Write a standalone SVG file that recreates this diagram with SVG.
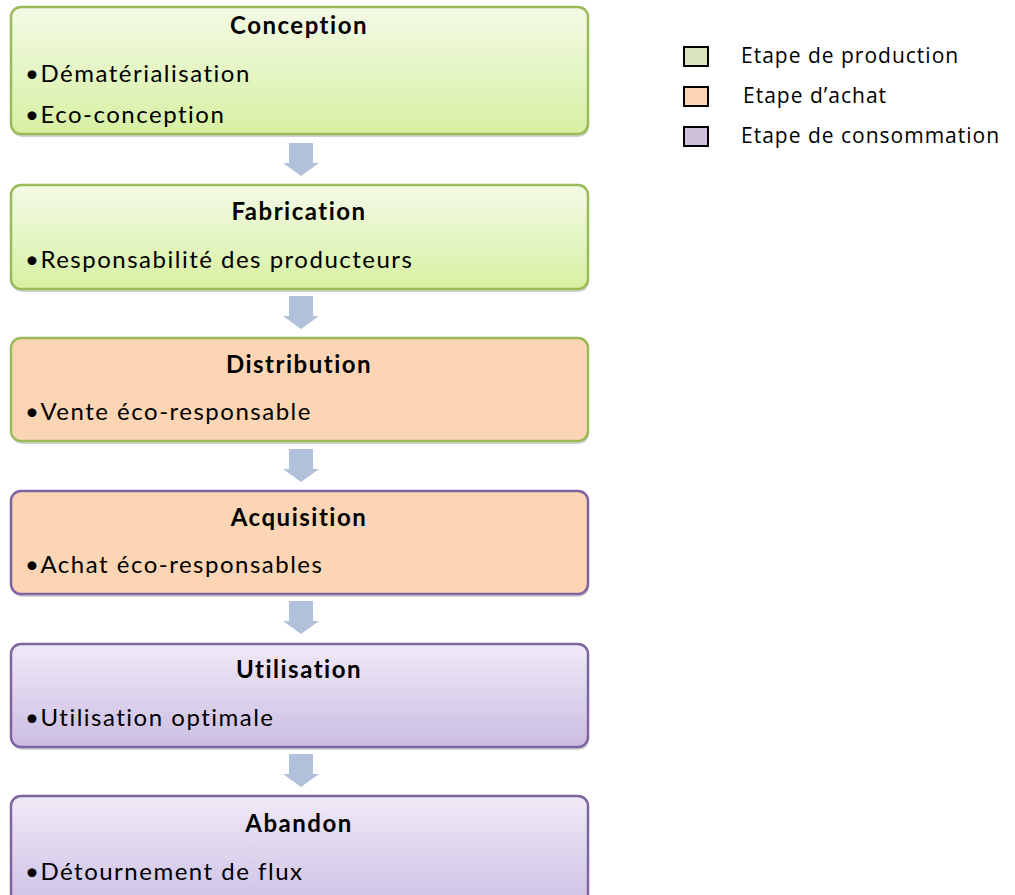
<svg xmlns="http://www.w3.org/2000/svg" width="1015" height="895" viewBox="0 0 1015 895">
<style>
.t{font-family:Lato,"Open Sans","Liberation Sans",sans-serif;font-weight:bold;font-size:24px;letter-spacing:1.5px;fill:#000;text-anchor:middle}
.b{font-family:Lato,"Open Sans","Liberation Sans",sans-serif;font-size:24px;letter-spacing:1.5px;fill:#000}
.lg{font-family:"Open Sans","Liberation Sans",sans-serif;font-size:21px;letter-spacing:1px;fill:#000}
.g{fill:url(#gg);stroke:#9bbb59;stroke-width:2.5}
.o{fill:#fcd5b5;stroke-width:2.5}
.p{fill:url(#pg);stroke:#8064a2;stroke-width:2.5}
.sh{fill:#7f7f7f;opacity:0.35}
.ar{fill:#b1c1dc}
.sq{stroke:#000;stroke-width:2}
</style>
<defs>
<linearGradient id="gg" x1="0" y1="0" x2="0" y2="1"><stop offset="0" stop-color="#f3fae6"/><stop offset="1" stop-color="#d7f0a2"/></linearGradient>
<linearGradient id="pg" x1="0" y1="0" x2="0" y2="1"><stop offset="0" stop-color="#efeaf7"/><stop offset="1" stop-color="#cbbde3"/></linearGradient>
</defs>
<rect width="1015" height="895" fill="#fff"/>
<g id="connectors">
<path class="ar" d="M289 143H313V163H319L301 176L283 163H289Z"/>
<path class="ar" d="M289 296H313V316H319L301 329L283 316H289Z"/>
<path class="ar" d="M289 449H313V469H319L301 482L283 469H289Z"/>
<path class="ar" d="M289 601H313V621H319L301 634L283 621H289Z"/>
<path class="ar" d="M289 754H313V774H319L301 787L283 774H289Z"/>
</g>
<g id="conception">
<rect class="sh" x="12" y="10" width="577" height="127" rx="10"/>
<rect class="g" x="11" y="7" width="577" height="127" rx="10"/>
<text class="t" x="299" y="34">Conception</text>
<text class="b" x="25" y="82">•Dématérialisation</text>
<text class="b" x="25" y="123">•Eco-conception</text>
</g>
<g id="fabrication">
<rect class="sh" x="12" y="188" width="577" height="104" rx="10"/>
<rect class="g" x="11" y="185" width="577" height="104" rx="10"/>
<text class="t" x="299" y="220">Fabrication</text>
<text class="b" x="25" y="268">•Responsabilité des producteurs</text>
</g>
<g id="distribution">
<rect class="sh" x="12" y="341" width="577" height="103" rx="10"/>
<rect class="o" stroke="#9bbb59" x="11" y="338" width="577" height="103" rx="10"/>
<text class="t" x="299" y="373">Distribution</text>
<text class="b" x="25" y="420">•Vente éco-responsable</text>
</g>
<g id="acquisition">
<rect class="sh" x="12" y="494" width="577" height="103" rx="10"/>
<rect class="o" stroke="#8064a2" x="11" y="491" width="577" height="103" rx="10"/>
<text class="t" x="299" y="526">Acquisition</text>
<text class="b" x="25" y="573">•Achat éco-responsables</text>
</g>
<g id="utilisation">
<rect class="sh" x="12" y="647" width="577" height="103" rx="10"/>
<rect class="p" x="11" y="644" width="577" height="103" rx="10"/>
<text class="t" x="299" y="678">Utilisation</text>
<text class="b" x="25" y="726">•Utilisation optimale</text>
</g>
<g id="abandon">
<rect class="p" x="11" y="796" width="577" height="120" rx="10"/>
<text class="t" x="299" y="832">Abandon</text>
<text class="b" x="25" y="880">•Détournement de flux</text>
</g>
<g id="legend">
<rect class="sq" x="684" y="47" width="24" height="19" fill="#d7e4bd"/>
<text class="lg" x="741" y="63">Etape de production</text>
<rect class="sq" x="684" y="87" width="24" height="19" fill="#fcd5b5"/>
<text class="lg" x="743" y="103">Etape d’achat</text>
<rect class="sq" x="684" y="127" width="24" height="19" fill="#ccc0da"/>
<text class="lg" x="741" y="143">Etape de consommation</text>
</g>
</svg>
